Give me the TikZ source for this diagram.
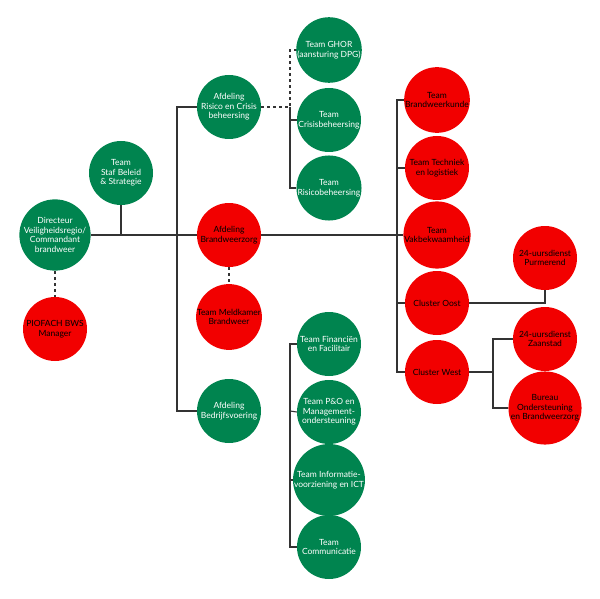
\documentclass[tikz,border=0pt]{standalone}
\usepackage{fontspec}
\setmainfont{Lato}
\usetikzlibrary{calc}
\definecolor{orggreen}{HTML}{00844F}
\definecolor{orgred}{HTML}{F20000}
\tikzset{
  unit/.style={circle,minimum size=64pt,inner sep=0pt,align=center,font=\fontsize{8.5}{9.5}\selectfont},
  greenunit/.style={unit,fill=orggreen,text=white},
  redunit/.style={unit,fill=orgred,text=black},
  link/.style={draw=black!80,line width=1.1pt},
  dashlink/.style={link,dashed}
}
\begin{document}
\begin{tikzpicture}[x=1pt,y=-1pt]
   \useasboundingbox (0,0) rectangle (600,599);
   % top level
   \node[greenunit] (dir) at (55,235) {Directeur\\Veiligheidsregio/\\Commandant\\brandweer};
   \node[redunit] (piofach) at (55,329) {PIOFACH BWS\\Manager};
   \node[greenunit] (staf) at (121,173) {Team\\Staf Beleid\\\& Strategie};
   % afdelingen
   \node[greenunit] (risico) at (229,107) {Afdeling\\Risico en Crisis\\beheersing};
   \node[redunit] (bwz) at (229,235) {Afdeling\\Brandweerzorg};
   \node[redunit] (meld) at (229,317) {Team Meldkamer\\Brandweer};
   \node[greenunit] (bedr) at (229,411) {Afdeling\\Bedrijfsvoering};
   % teams risico
   \node[greenunit] (ghor) at (329,50) {Team GHOR\\(aansturing DPG)};
   \node[greenunit] (crisis) at (329,120) {Team\\Crisisbeheersing};
   \node[greenunit] (risbeh) at (329,188) {Team\\Risicobeheersing};
   % teams bedrijfsvoering
   \node[greenunit] (fin) at (329,344) {Team Financiën\\en Facilitair};
   \node[greenunit] (po) at (329,412) {Team P\&O en\\Management-\\ondersteuning};
   \node[greenunit] (info) at (329,480) {Team Informatie-\\voorziening en ICT};
   \node[greenunit] (comm) at (329,547) {Team\\Communicatie};
   % teams brandweerzorg
   \node[redunit] (bwk) at (437,100) {Team\\Brandweerkunde};
   \node[redunit] (tech) at (437,168) {Team Techniek\\en logistiek};
   \node[redunit] (vak) at (437,235) {Team\\Vakbekwaamheid};
   \node[redunit] (oost) at (437,303) {Cluster Oost};
   \node[redunit] (west) at (437,372) {Cluster West};
   \node[redunit] (purm) at (545,258) {24-uursdienst\\Purmerend};
   \node[redunit] (zaan) at (545,339) {24-uursdienst\\Zaanstad};
   \node[redunit] (bureau) at (545,408) {Bureau\\Ondersteuning\\en Brandweerzorg};
   % connectors
   \draw[dashlink] (dir) -- (piofach);
   \draw[dashlink] (bwz) -- (meld);
   \draw[link] (dir) -- (bwz);
   \draw[link] (staf) -- (staf |- dir);
   \draw[link] (risico.west) -| (177,235) |- (bedr.west);
   \draw[dashlink] (risico.east) -- (290,107) |- (ghor.west);
   \draw[link] (290,107) |- (crisis.west);
   \draw[link] (290,107) |- (risbeh.west);
   \draw[link] (fin.west) -| (290,411) |- (comm.west);
   \draw[link] (290,411) -- (po.west);
   \draw[link] (290,411) |- (info.west);
   \draw[link] (bwz) -- (vak);
   \draw[link] (bwk.west) -| (397,235) |- (west.west);
   \draw[link] (397,168) -- (tech.west);
   \draw[link] (397,303) -- (oost.west);
   \draw[link] (oost.east) -| (purm.south);
   \draw[link] (west.east) -- (493,372);
   \draw[link] (zaan.west) -| (493,372) |- (bureau.west);
\end{tikzpicture}
\end{document}
